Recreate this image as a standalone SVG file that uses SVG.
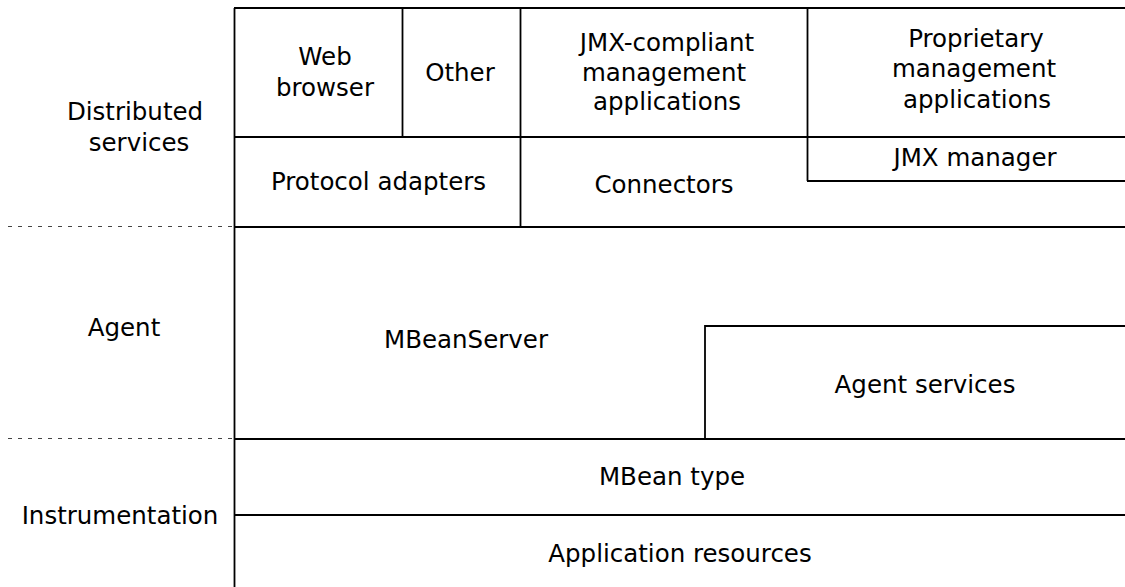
<svg xmlns="http://www.w3.org/2000/svg" width="1125" height="587" viewBox="0 0 1125 587">
  <style>
    .ln { stroke: #000; stroke-width: 1.8; fill: none; }
    .dash { stroke: #444; stroke-width: 1; stroke-dasharray: 4 6; fill: none; }
    text { font-family: "DejaVu Sans", "Liberation Sans", sans-serif; font-size: 24.5px; fill: #000; text-anchor: middle; }
  </style>
  <rect width="1125" height="587" fill="#fff"/>

  <!-- layer labels and separators -->
  <g id="layer-labels">
    <text x="135" y="120">Distributed</text>
    <text x="139" y="151">services</text>
    <text x="124" y="336">Agent</text>
    <text x="120" y="524">Instrumentation</text>
  </g>
  <g id="connectors">
    <line class="dash" x1="8" y1="226.5" x2="234" y2="226.5"/>
    <line class="dash" x1="8" y1="438.5" x2="234" y2="438.5"/>
    <line class="ln" x1="234.5" y1="8" x2="234.5" y2="587"/>
    <line class="ln" x1="234" y1="8" x2="1125" y2="8"/>
    <line class="ln" x1="234" y1="137" x2="1125" y2="137"/>
    <line class="ln" x1="234" y1="227" x2="1125" y2="227"/>
    <line class="ln" x1="234" y1="439" x2="1125" y2="439"/>
    <line class="ln" x1="234" y1="515" x2="1125" y2="515"/>
  </g>

  <!-- distributed services layer -->
  <g id="web-browser">
    <line class="ln" x1="402.5" y1="8" x2="402.5" y2="137"/>
    <text x="325" y="65">Web</text>
    <text x="325" y="96">browser</text>
  </g>
  <g id="other">
    <line class="ln" x1="520.5" y1="8" x2="520.5" y2="227"/>
    <text x="460" y="81">Other</text>
  </g>
  <g id="jmx-compliant-apps">
    <line class="ln" x1="807.5" y1="8" x2="807.5" y2="181"/>
    <text x="667" y="51">JMX-compliant</text>
    <text x="664" y="81">management</text>
    <text x="667" y="110">applications</text>
  </g>
  <g id="proprietary-apps">
    <text x="976" y="47">Proprietary</text>
    <text x="974" y="77">management</text>
    <text x="977" y="108">applications</text>
  </g>
  <g id="protocol-adapters">
    <text x="378.5" y="190">Protocol adapters</text>
  </g>
  <g id="connectors-box">
    <text x="664" y="193">Connectors</text>
  </g>
  <g id="jmx-manager">
    <line class="ln" x1="807" y1="181" x2="1125" y2="181"/>
    <text x="975" y="166">JMX manager</text>
  </g>

  <!-- agent layer -->
  <g id="mbean-server">
    <text x="466" y="348">MBeanServer</text>
  </g>
  <g id="agent-services">
    <polyline class="ln" points="705,439 705,326 1125,326"/>
    <text x="925" y="393">Agent services</text>
  </g>

  <!-- instrumentation layer -->
  <g id="mbean-type">
    <text x="672" y="485">MBean type</text>
  </g>
  <g id="application-resources">
    <text x="680" y="562">Application resources</text>
  </g>
</svg>
